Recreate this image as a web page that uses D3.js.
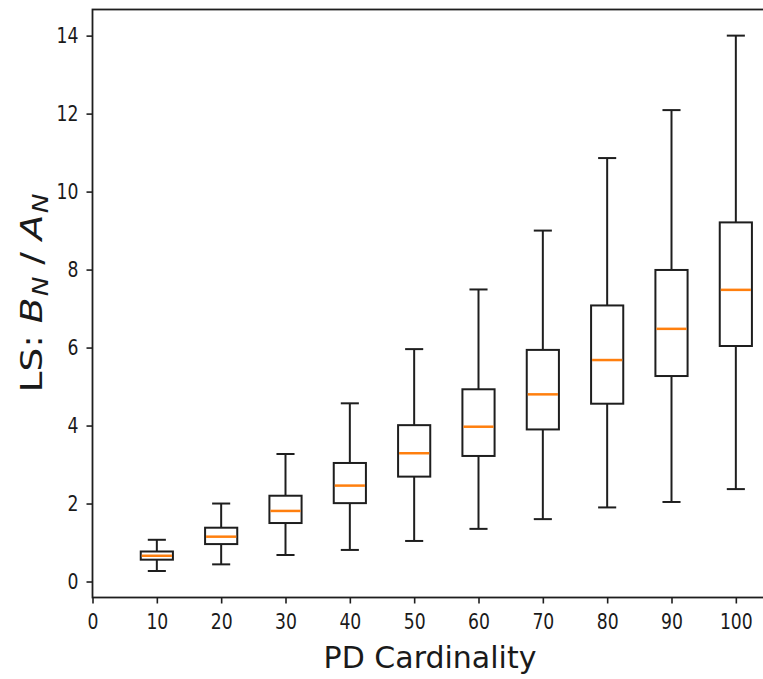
<!DOCTYPE html>
<html>
<head>
<meta charset="utf-8">
<script src="https://cdn.jsdelivr.net/npm/d3@7"></script>
<style>
  html, body { margin: 0; padding: 0; background: #fff; }
  svg text { font-family: "DejaVu Sans", sans-serif; fill: #1a1a1a; }
</style>
</head>
<body>
<svg id="chart" width="763" height="679"></svg>
<script>
// PD cardinality groups and their box-plot statistics
const cardinalities = [10, 20, 30, 40, 50, 60, 70, 80, 90, 100];
const whiskerLow  = [0.27, 0.44, 0.68, 0.81, 1.04, 1.35, 1.60, 1.90, 2.04, 2.37];
const quartile1   = [0.56, 0.96, 1.50, 2.01, 2.69, 3.22, 3.90, 4.56, 5.27, 6.04];
const medians     = [0.66, 1.15, 1.81, 2.46, 3.29, 3.97, 4.80, 5.68, 6.48, 7.48];
const quartile3   = [0.77, 1.38, 2.20, 3.04, 4.01, 4.93, 5.94, 7.08, 7.99, 9.21];
const whiskerHigh = [1.07, 2.00, 3.27, 4.57, 5.96, 7.49, 9.00, 10.86, 12.09, 14.00];

const xTicks = [0, 10, 20, 30, 40, 50, 60, 70, 80, 90, 100];
const yTicks = [0, 2, 4, 6, 8, 10, 12, 14];

const boxWidth = 5;     // in x-axis units
const capWidth = 2.5;   // in x-axis units

const stats = cardinalities.map((c, i) => ({
  pos: c, lo: whiskerLow[i], q1: quartile1[i], med: medians[i],
  q3: quartile3[i], hi: whiskerHigh[i]
}));

const svg = d3.select("#chart");
const plotLeft = 92.5, plotRight = 768, plotTop = 9.5, plotBottom = 597.5;

const x = d3.scaleLinear().domain([0, 105]).range([plotLeft, plotRight]);
const y = d3.scaleLinear().domain([-0.41, 14.67]).range([plotBottom, plotTop]);

svg.append("rect").attr("width", 763).attr("height", 679).attr("fill", "#fff");

const ink = "#1e1e1e";

// boxes
const g = svg.append("g");
const box = g.selectAll("g.box").data(stats).join("g").attr("class", "box");

box.append("line")
  .attr("x1", d => x(d.pos)).attr("x2", d => x(d.pos))
  .attr("y1", d => y(d.hi)).attr("y2", d => y(d.q3))
  .attr("stroke", ink).attr("stroke-width", 2);
box.append("line")
  .attr("x1", d => x(d.pos)).attr("x2", d => x(d.pos))
  .attr("y1", d => y(d.q1)).attr("y2", d => y(d.lo))
  .attr("stroke", ink).attr("stroke-width", 2);
box.append("line")
  .attr("x1", d => x(d.pos - capWidth / 2)).attr("x2", d => x(d.pos + capWidth / 2))
  .attr("y1", d => y(d.hi)).attr("y2", d => y(d.hi))
  .attr("stroke", ink).attr("stroke-width", 2).attr("stroke-linecap", "square");
box.append("line")
  .attr("x1", d => x(d.pos - capWidth / 2)).attr("x2", d => x(d.pos + capWidth / 2))
  .attr("y1", d => y(d.lo)).attr("y2", d => y(d.lo))
  .attr("stroke", ink).attr("stroke-width", 2).attr("stroke-linecap", "square");
box.append("rect")
  .attr("x", d => x(d.pos - boxWidth / 2))
  .attr("width", d => x(d.pos + boxWidth / 2) - x(d.pos - boxWidth / 2))
  .attr("y", d => y(d.q3))
  .attr("height", d => y(d.q1) - y(d.q3))
  .attr("fill", "none").attr("stroke", ink).attr("stroke-width", 2);
box.append("line")
  .attr("x1", d => x(d.pos - boxWidth / 2) + 1).attr("x2", d => x(d.pos + boxWidth / 2) - 1)
  .attr("y1", d => y(d.med)).attr("y2", d => y(d.med))
  .attr("stroke", "#ff7f0e").attr("stroke-width", 2.5);

// axes
const tickFont = 21, tickSquash = 0.82;
const xAxis = svg.append("g")
  .attr("transform", `translate(0,${plotBottom})`)
  .call(d3.axisBottom(x).tickValues(xTicks).tickSize(6).tickPadding(11).tickFormat(d3.format("d")));
const yAxis = svg.append("g")
  .attr("transform", `translate(${plotLeft},0)`)
  .call(d3.axisLeft(y).tickValues(yTicks).tickSize(6).tickPadding(8).tickFormat(d3.format("d")));

[xAxis, yAxis].forEach(a => {
  a.select(".domain").remove();
  a.selectAll(".tick line").attr("stroke", ink).attr("stroke-width", 1.6);
  a.selectAll(".tick text").attr("font-size", tickFont).attr("fill", "#1a1a1a")
    .attr("font-family", "DejaVu Sans, sans-serif")
    .attr("transform", `scale(${tickSquash},1)`);
});
yAxis.selectAll(".tick text").attr("x", -14 / tickSquash);

// frame
svg.append("rect")
  .attr("x", plotLeft).attr("y", plotTop)
  .attr("width", plotRight - plotLeft).attr("height", plotBottom - plotTop)
  .attr("fill", "none").attr("stroke", ink).attr("stroke-width", 1.8);

// axis titles
svg.append("text")
  .attr("x", 430).attr("y", 668)
  .attr("text-anchor", "middle")
  .attr("font-size", 30)
  .text("PD Cardinality");

const yl = svg.append("text")
  .attr("transform", "translate(42,293) rotate(-90) scale(1.25,1)")
  .attr("text-anchor", "middle")
  .attr("font-size", 30);
yl.append("tspan").text("LS: ");
yl.append("tspan").attr("font-style", "italic").text("B");
yl.append("tspan").attr("font-style", "italic").attr("font-size", 21).attr("dx", 1).attr("dy", 6).text("N");
yl.append("tspan").attr("dy", -6).text(" / ");
yl.append("tspan").attr("font-style", "italic").text("A");
yl.append("tspan").attr("font-style", "italic").attr("font-size", 21).attr("dx", 1).attr("dy", 6).text("N");
</script>
</body>
</html>
